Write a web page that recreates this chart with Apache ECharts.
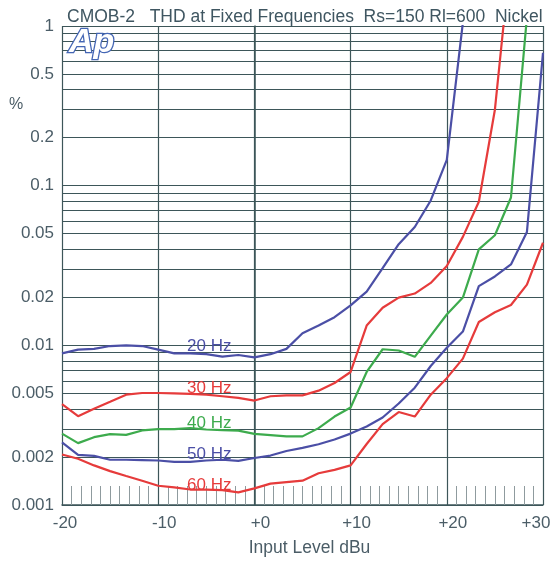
<!DOCTYPE html>
<html>
<head>
<meta charset="utf-8">
<script src="https://cdn.jsdelivr.net/npm/echarts@6/dist/echarts.min.js"></script>
<style>
  html, body { margin: 0; padding: 0; background: #ffffff; }
  #chart { width: 555px; height: 562px; }
</style>
</head>
<body>
<div id="chart"></div>
<script>
// Input level sweep, dBu
const levels = [-20, -18.33, -16.67, -15, -13.33, -11.67, -10, -8.33, -6.67, -5,
  -3.33, -1.67, 0, 1.67, 3.33, 5, 6.67, 8.33, 10, 11.67,
  13.33, 15, 16.67, 18.33, 20, 21.67, 23.33, 25, 26.67, 28.33, 30];

// THD in percent, one list per test frequency
const thd20 = [0.0089, 0.0094, 0.0095, 0.0099, 0.0100, 0.0099, 0.0094, 0.0089, 0.0089, 0.0088,
  0.0085, 0.0087, 0.0084, 0.0088, 0.0095, 0.0119, 0.0133, 0.0150, 0.0178, 0.0217,
  0.0304, 0.0430, 0.0551, 0.0808, 0.145, 1.05];
const thd30 = [0.00429, 0.00360, 0.00401, 0.00443, 0.00491, 0.00503, 0.00503, 0.00500, 0.00496, 0.00491,
  0.00480, 0.00469, 0.00451, 0.00480, 0.00486, 0.00486, 0.00520, 0.00581, 0.00681, 0.0133,
  0.0172, 0.0199, 0.0211, 0.0246, 0.0314, 0.0478, 0.0793, 0.299, 2.9];
const thd40 = [0.00280, 0.00244, 0.00266, 0.00278, 0.00275, 0.00293, 0.00299, 0.00299, 0.00303, 0.00297,
  0.00294, 0.00292, 0.00279, 0.00274, 0.00269, 0.00269, 0.00303, 0.00358, 0.00408, 0.00681,
  0.00945, 0.00928, 0.00847, 0.0115, 0.0156, 0.0199, 0.0399, 0.0489, 0.0843, 1.14];
const thd50 = [0.00247, 0.00206, 0.00203, 0.00192, 0.00192, 0.00191, 0.00190, 0.00186, 0.00186, 0.00190,
  0.00192, 0.00189, 0.00197, 0.00204, 0.00218, 0.00228, 0.00240, 0.00257, 0.00280, 0.00310,
  0.00353, 0.00432, 0.00543, 0.00742, 0.00965, 0.0122, 0.0235, 0.0270, 0.0321, 0.0513, 0.68];
const thd60 = [0.00207, 0.00195, 0.00177, 0.00163, 0.00152, 0.00142, 0.00132, 0.00129, 0.00125, 0.00125,
  0.00124, 0.00120, 0.00127, 0.00136, 0.00139, 0.00142, 0.00158, 0.00166, 0.00177, 0.00241,
  0.00321, 0.00382, 0.00358, 0.00491, 0.00623, 0.00826, 0.0140, 0.0161, 0.0179, 0.0240, 0.0439];

const seriesNames = ['20 Hz', '30 Hz', '40 Hz', '50 Hz', '60 Hz'];
const seriesValues = [thd20, thd30, thd40, thd50, thd60];

// Horizontal grid rows and the labelled ones on the % axis
const gridValues = [0.001, 0.002, 0.003, 0.004, 0.005, 0.006, 0.007, 0.008, 0.009,
  0.01, 0.02, 0.03, 0.04, 0.05, 0.06, 0.07, 0.08, 0.09,
  0.1, 0.2, 0.3, 0.4, 0.5, 0.6, 0.7, 0.8, 0.9, 1];
const yTickLabels = [0.001, 0.002, 0.005, 0.01, 0.02, 0.05, 0.1, 0.2, 0.5, 1];

const titleText = 'CMOB-2   THD at Fixed Frequencies  Rs=150 Rl=600  Nickel';

const FONT = '"Liberation Sans", Arial, Helvetica, sans-serif';
const INK = '#3d5659';
const TEXT = '#4b5d67';
const lineColors = ['#4b4fa6', '#e63b3b', '#3dab4d', '#4b4fa6', '#e63b3b'];

const chart = echarts.init(document.getElementById('chart'), null, { renderer: 'canvas' });

const series = seriesNames.map((name, i) => ({
  type: 'line',
  name: name,
  data: seriesValues[i].map((v, k) => [levels[k], v]),
  symbol: 'none',
  showSymbol: false,
  clip: true,
  z: 3,
  lineStyle: { color: lineColors[i], width: 2.2 },
  itemStyle: { color: lineColors[i] }
}));

function xLabel(v) {
  const t = (v >= 0 ? '+' : '') + v;
  if (v === 30) return '{e|' + t + '}';
  if (v === -20) return '{f|' + t + '}';
  return '{m|' + t + '}';
}

const labelFont = { fontSize: 17, fontFamily: FONT, color: TEXT };

const hzLabels = [
  { text: '20 Hz', y: 346.5, c: lineColors[0] },
  { text: '30 Hz', y: 388.5, c: lineColors[1] },
  { text: '40 Hz', y: 423.5, c: lineColors[2] },
  { text: '50 Hz', y: 454.5, c: lineColors[3] },
  { text: '60 Hz', y: 485, c: lineColors[4] }
];

chart.setOption({
  animation: false,
  backgroundColor: '#ffffff',
  title: {
    text: titleText,
    left: 67,
    top: 8,
    padding: 0,
    textStyle: { fontSize: 17.5, fontWeight: 'normal', color: '#3f5661', fontFamily: FONT }
  },
  grid: { left: 62, top: 26, width: 481, height: 486, containLabel: false },
  xAxis: {
    type: 'value',
    min: -20,
    max: 30,
    interval: 10,
    axisLine: { show: true, lineStyle: { color: INK, width: 1.5 } },
    axisTick: { show: false, inside: true },
    minorTick: { show: true, splitNumber: 10, length: 19, lineStyle: { color: '#8f9b9e', width: 1 } },
    splitLine: { show: true, lineStyle: { color: INK, width: 1.2 } },
    axisLabel: {
      margin: 10,
      formatter: xLabel,
      rich: {
        m: Object.assign({ padding: [0, 0, 0, 12] }, labelFont),
        f: Object.assign({ padding: [0, 0, 0, 6] }, labelFont),
        e: Object.assign({ padding: [0, 14, 0, 0] }, labelFont)
      }
    },
    name: 'Input Level dBu',
    nameLocation: 'middle',
    nameGap: 34,
    nameTextStyle: { fontSize: 17.5, fontFamily: FONT, color: TEXT, padding: [0, 0, 0, 14] }
  },
  yAxis: {
    type: 'log',
    logBase: 10,
    min: 0.001,
    max: 1,
    axisLine: { show: true, lineStyle: { color: INK, width: 1.5 } },
    axisTick: { show: false, customValues: gridValues },
    splitLine: { show: true, lineStyle: { color: INK, width: 1.2 } },
    axisLabel: {
      customValues: yTickLabels,
      margin: 8,
      fontSize: 17,
      fontFamily: FONT,
      color: TEXT,
      formatter: v => String(v)
    }
  },
  graphic: [
    {
      type: 'text', x: 16, y: 105, z: 10,
      style: { text: '%', fontSize: 16, fontFamily: FONT, fill: TEXT, align: 'center', verticalAlign: 'middle' }
    },
    {
      // outlined "Ap" badge in the upper-left corner of the plot
      type: 'text', x: 69, y: 43, z: 10,
      style: {
        text: 'Ap', font: 'italic bold 34px ' + FONT,
        fill: '#ffffff', stroke: '#4466b4', lineWidth: 2.6,
        align: 'left', verticalAlign: 'middle'
      }
    }
  ].concat(hzLabels.map(l => ({
    type: 'text', x: 187, y: l.y, z: 10,
    style: { text: l.text, fontSize: 17, fontFamily: FONT, fill: l.c, align: 'left', verticalAlign: 'middle' }
  }))),
  series: series
});
</script>
</body>
</html>
